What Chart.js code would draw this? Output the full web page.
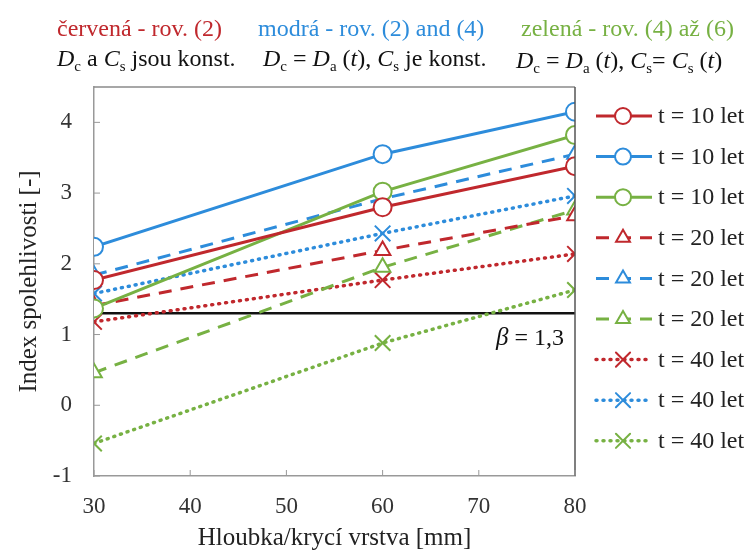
<!DOCTYPE html>
<html>
<head>
<meta charset="utf-8">
<script src="https://cdn.jsdelivr.net/npm/chart.js@4.4.1/dist/chart.umd.min.js"></script>
<style>
  html, body { margin: 0; padding: 0; background: #fff; }
  #wrap { position: relative; width: 753px; height: 553px; }
  canvas { position: absolute; left: 0; top: 0; }
  .hdr { position: absolute; font-family: "Liberation Serif", "Times New Roman", serif; font-size: 24px; white-space: nowrap; line-height: 1; }
  .hdr i { font-style: italic; }
  .hdr sub { font-size: 15px; vertical-align: -5px; }
</style>
</head>
<body>
<div id="wrap">
  <canvas id="graf" width="753" height="553"></canvas>
  <div class="hdr" style="left:57px; top:16px; color:#c0282d;">červená - rov. (2)</div>
  <div class="hdr" style="left:258px; top:16px; color:#2d8cdb;">modrá - rov. (2) and (4)</div>
  <div class="hdr" style="left:521px; top:16px; color:#77b143;">zelená - rov. (4) až (6)</div>
  <div class="hdr" style="left:57px; top:46px; color:#111;"><i>D</i><sub>c</sub> a <i>C</i><sub>s</sub> jsou konst.</div>
  <div class="hdr" style="left:263px; top:46px; color:#111;"><i>D</i><sub>c</sub> = <i>D</i><sub>a</sub> (<i>t</i>), <i>C</i><sub>s</sub> je konst.</div>
  <div class="hdr" style="left:516px; top:48px; color:#111;"><i>D</i><sub>c</sub> = <i>D</i><sub>a</sub> (<i>t</i>), <i>C</i><sub>s</sub>= <i>C</i><sub>s</sub> (<i>t</i>)</div>
</div>
<script>
// ── Datos ───────────────────────────────────────────────────────────────────
const hloubka = [30, 60, 80];

const cervena10 = [1.77, 2.80, 3.38];
const modra10   = [2.24, 3.55, 4.15];
const zelena10  = [1.37, 3.02, 3.82];
const cervena20 = [1.41, 2.19, 2.68];
const modra20   = [1.84, 2.92, 3.55];
const zelena20  = [0.46, 1.95, 2.76];
const cervena40 = [1.18, 1.77, 2.14];
const modra40   = [1.58, 2.43, 2.96];
const zelena40  = [-0.54, 0.88, 1.63];

const beta = 1.3;
const xTicks = [30, 40, 50, 60, 70, 80];
const yTicks = [-1, 0, 1, 2, 3, 4];
const popisky = ['t = 10 let', 't = 10 let', 't = 10 let',
                 't = 20 let', 't = 20 let', 't = 20 let',
                 't = 40 let', 't = 40 let', 't = 40 let'];

// ── Estilos ────────────────────────────────────────────────────────────────
const CERVENA = '#c0282d';
const MODRA = '#2d8cdb';
const ZELENA = '#77b143';
const SERIF = '"Liberation Serif", "Times New Roman", serif';

const styly = {
  solid:  { dash: [], marker: 'circle', width: 3, r: 9 },
  dashed: { dash: [13, 9], marker: 'triangle', width: 3, r: 9 },
  dotted: { dash: [1, 6], marker: 'crossRot', width: 3.5, r: 11 },
};

function serie(label, hodnoty, barva, styl) {
  const s = styly[styl];
  return {
    label,
    data: hodnoty.map((v, i) => ({ x: hloubka[i], y: v })),
    borderColor: barva,
    backgroundColor: '#fff',
    borderWidth: s.width,
    borderDash: s.dash,
    borderCapStyle: styl === 'dotted' ? 'round' : 'butt',
    pointStyle: s.marker,
    pointRadius: s.r,
    pointBorderWidth: 2,
    pointBorderColor: barva,
    pointBackgroundColor: s.marker === 'crossRot' ? barva : '#fff',
    tension: 0,
  };
}

const datasets = [
  serie(popisky[0], cervena10, CERVENA, 'solid'),
  serie(popisky[1], modra10, MODRA, 'solid'),
  serie(popisky[2], zelena10, ZELENA, 'solid'),
  serie(popisky[3], cervena20, CERVENA, 'dashed'),
  serie(popisky[4], modra20, MODRA, 'dashed'),
  serie(popisky[5], zelena20, ZELENA, 'dashed'),
  serie(popisky[6], cervena40, CERVENA, 'dotted'),
  serie(popisky[7], modra40, MODRA, 'dotted'),
  serie(popisky[8], zelena40, ZELENA, 'dotted'),
  {
    label: 'beta',
    data: [{ x: 30, y: beta }, { x: 80, y: beta }],
    borderColor: '#111',
    borderWidth: 2.5,
    pointRadius: 0,
    order: 10,
  },
];

// ── Plugin: rámeček, vnitřní ticky, β popisek a legenda ────────────────────
const doplnky = {
  id: 'doplnky',
  afterDraw(chart) {
    const { ctx, chartArea: a, scales } = chart;
    ctx.save();

    // rámeček
    ctx.lineWidth = 1.5;
    ctx.strokeStyle = '#8a8a8a';
    ctx.beginPath();
    ctx.moveTo(a.left, a.top); ctx.lineTo(a.right, a.top);
    ctx.stroke();
    ctx.strokeStyle = '#555';
    ctx.beginPath();
    ctx.moveTo(a.right, a.top); ctx.lineTo(a.right, a.bottom);
    ctx.stroke();

    // ticky dovnitř
    ctx.strokeStyle = '#999';
    ctx.lineWidth = 1;
    yTicks.forEach(v => {
      const y = scales.y.getPixelForValue(v);
      ctx.beginPath(); ctx.moveTo(a.left, y); ctx.lineTo(a.left + 6, y); ctx.stroke();
    });
    xTicks.forEach(v => {
      const x = scales.x.getPixelForValue(v);
      ctx.beginPath(); ctx.moveTo(x, a.bottom); ctx.lineTo(x, a.bottom - 6); ctx.stroke();
    });

    // β = 1,3
    ctx.fillStyle = '#111';
    ctx.textBaseline = 'middle';
    ctx.textAlign = 'right';
    const yb = scales.y.getPixelForValue(beta) + 25;
    ctx.font = '24px ' + SERIF;
    const zbytek = ' = 1,3';
    ctx.fillText(zbytek, a.right - 11, yb);
    const w = ctx.measureText(zbytek).width;
    ctx.font = 'italic 25px ' + SERIF;
    ctx.fillText('β', a.right - 11 - w, yb);

    // legenda
    const x0 = a.right + 21, x1 = a.right + 77, xm = a.right + 48;
    chart.data.datasets.slice(0, 9).forEach((ds, i) => {
      const y = a.top + 29 + i * 40.6;
      ctx.strokeStyle = ds.borderColor;
      ctx.lineWidth = ds.borderWidth;
      ctx.lineCap = ds.borderCapStyle;
      ctx.setLineDash(ds.borderDash);
      ctx.beginPath(); ctx.moveTo(x0, y); ctx.lineTo(x1, y); ctx.stroke();
      ctx.setLineDash([]);
      ctx.fillStyle = '#fff';
      ctx.strokeStyle = ds.borderColor;
      ctx.lineWidth = 2;
      Chart.helpers.drawPoint(ctx, { pointStyle: ds.pointStyle, radius: ds.pointRadius - 1, rotation: 0, borderWidth: 2 }, xm, y);
      ctx.fillStyle = '#222';
      ctx.textAlign = 'left';
      ctx.font = '24px ' + SERIF;
      ctx.fillText(ds.label, a.right + 83, y + 1);
    });

    ctx.restore();
  },
};

const ctx = document.getElementById('graf').getContext('2d');
new Chart(ctx, {
  type: 'line',
  data: { datasets },
  plugins: [doplnky],
  options: {
    responsive: false,
    animation: false,
    layout: { padding: { top: 87, right: 178, left: 14, bottom: 0 } },
    plugins: {
      legend: { display: false },
      tooltip: { enabled: false },
    },
    scales: {
      x: {
        type: 'linear',
        min: 30,
        max: 80,
        afterFit: s => { s.height = 77; },
        afterBuildTicks: s => { s.ticks = xTicks.map(v => ({ value: v })); },
        grid: { display: false, drawTicks: false },
        border: { color: '#999', width: 1.5 },
        ticks: { color: '#333', padding: 17, font: { family: SERIF, size: 23 } },
        title: {
          display: true,
          text: 'Hloubka/krycí vrstva [mm]',
          color: '#222',
          font: { family: SERIF, size: 25 },
          padding: { top: 0, bottom: 0 },
        },
      },
      y: {
        type: 'linear',
        min: -1,
        max: 4.5,
        afterFit: s => { s.width = 80; },
        afterBuildTicks: s => { s.ticks = yTicks.map(v => ({ value: v })); },
        grid: { display: false, drawTicks: false },
        border: { color: '#999', width: 1.5 },
        ticks: { color: '#333', padding: 22, font: { family: SERIF, size: 23 } },
        title: {
          display: true,
          text: 'Index spolehlivosti [-]',
          color: '#222',
          font: { family: SERIF, size: 25 },
          padding: { top: 0, bottom: 0 },
        },
      },
    },
  },
});
</script>
</body>
</html>
